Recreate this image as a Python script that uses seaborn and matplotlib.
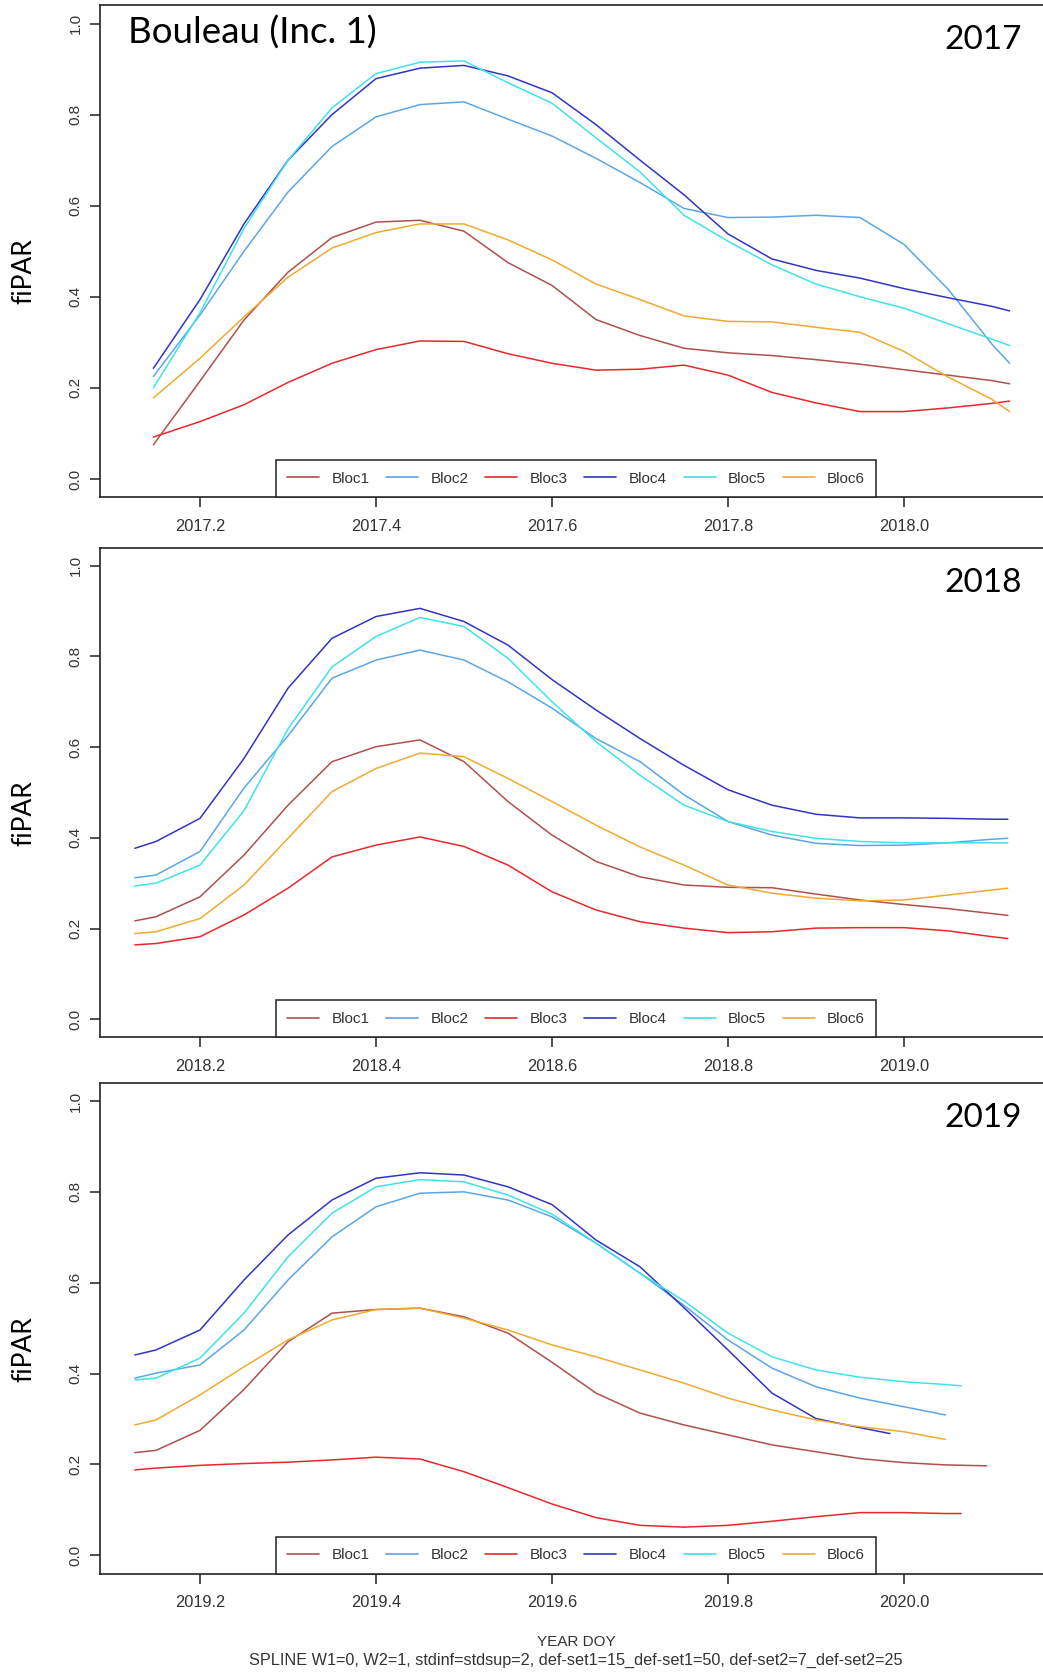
"""fiPAR spline curves per bloc, Bouleau (Inc. 1), 2017-2019."""

import numpy as np
import pandas as pd
import matplotlib

matplotlib.use("Agg")
import matplotlib.pyplot as plt
import seaborn as sns

nan = np.nan

BLOCS = ["Bloc1", "Bloc2", "Bloc3", "Bloc4", "Bloc5", "Bloc6"]
COLORS = ["#B0504C", "#5CA6E8", "#E8282C", "#3434C4", "#40E2EA", "#F0AA30"]

# 2017
x_2017 = [2017.147, 2017.20, 2017.25, 2017.30, 2017.35, 2017.40, 2017.45, 2017.50,
          2017.55, 2017.60, 2017.65, 2017.70, 2017.75, 2017.80, 2017.85, 2017.90,
          2017.95, 2018.00, 2018.05, 2018.10, 2018.12]
bloc1_2017 = [.075, .215, .349, .454, .530, .564, .568, .544, .475, .425, .350, .315,
              .287, .277, .271, .262, .252, .240, .228, .216, .209]
bloc2_2017 = [.225, .360, .500, .630, .730, .795, .822, .828, .790, .753, .704, .651,
              .594, .574, .575, .579, .574, .515, .417, .296, .254]
bloc3_2017 = [.092, .126, .163, .212, .254, .284, .303, .302, .275, .254, .239, .241,
              .250, .228, .190, .167, .148, .148, .156, .166, .171]
bloc4_2017 = [.243, .394, .560, .700, .800, .879, .902, .908, .885, .848, .778, .700,
              .624, .538, .483, .458, .441, .418, .398, .379, .369]
bloc5_2017 = [.200, .365, .550, .700, .815, .890, .915, .918, .870, .825, .749, .674,
              .579, .522, .470, .428, .400, .375, .341, .307, .293]
bloc6_2017 = [.178, .265, .356, .443, .507, .541, .560, .560, .525, .481, .428, .394,
              .358, .346, .345, .333, .322, .280, .224, .175, .148]

# 2018
x_2018 = [2018.126, 2018.15, 2018.20, 2018.25, 2018.30, 2018.35, 2018.40, 2018.45,
          2018.50, 2018.55, 2018.60, 2018.65, 2018.70, 2018.75, 2018.80, 2018.85,
          2018.90, 2018.95, 2019.00, 2019.05, 2019.10, 2019.118]
bloc1_2018 = [.217, .226, .270, .362, .472, .568, .601, .616, .568, .480, .406, .348,
              .314, .296, .291, .290, .276, .263, .253, .244, .233, .229]
bloc2_2018 = [.312, .318, .370, .510, .625, .752, .792, .814, .792, .744, .686, .619,
              .568, .495, .436, .406, .388, .383, .384, .389, .397, .399]
bloc3_2018 = [.164, .167, .182, .230, .289, .358, .384, .402, .381, .340, .281, .241,
              .215, .201, .191, .193, .201, .202, .202, .195, .182, .178]
bloc4_2018 = [.377, .392, .443, .575, .730, .840, .888, .906, .877, .825, .749, .682,
              .619, .560, .506, .472, .452, .444, .444, .443, .441, .441]
bloc5_2018 = [.294, .300, .340, .460, .640, .777, .844, .886, .866, .796, .700, .612,
              .538, .472, .436, .414, .399, .392, .389, .389, .389, .389]
bloc6_2018 = [.189, .193, .222, .296, .399, .502, .553, .587, .579, .531, .480, .428,
              .380, .340, .296, .278, .267, .261, .263, .274, .285, .289]

# 2019
x_2019 = [2019.126, 2019.15, 2019.20, 2019.25, 2019.30, 2019.35, 2019.40, 2019.45,
          2019.50, 2019.55, 2019.60, 2019.65, 2019.70, 2019.75, 2019.80, 2019.85,
          2019.90, 2019.95, 2019.984, 2020.00, 2020.047, 2020.065, 2020.094]
bloc1_2019 = [.226, .231, .275, .365, .470, .533, .541, .544, .525, .489, .425, .357,
              .313, .287, .265, .243, .228, .213, nan, .204, .199, nan, .197]
bloc2_2019 = [.390, .401, .419, .496, .606, .701, .767, .797, .800, .782, .745, .687,
              .621, .550, .474, .412, .371, .346, nan, .327, .309, nan, nan]
bloc3_2019 = [.188, .192, .198, .202, .205, .210, .216, .212, .184, .149, .113, .083,
              .066, .062, .066, .075, .085, .094, nan, .094, .092, .092, nan]
bloc4_2019 = [.441, .452, .496, .606, .705, .782, .830, .842, .837, .811, .772, .694,
              .635, .545, .452, .357, .301, .281, .268, nan, nan, nan, nan]
bloc5_2019 = [.386, .390, .434, .533, .657, .753, .811, .827, .822, .793, .751, .687,
              .621, .560, .489, .437, .408, .392, nan, .382, .376, .373, nan]
bloc6_2019 = [.287, .298, .353, .415, .474, .518, .541, .544, .522, .496, .463, .437,
              .408, .379, .346, .320, .298, .283, nan, .272, .255, nan, nan]

YEARS = [2017, 2018, 2019]
X_BY_YEAR = {2017: x_2017, 2018: x_2018, 2019: x_2019}
VALUES_BY_YEAR = {
    2017: [bloc1_2017, bloc2_2017, bloc3_2017, bloc4_2017, bloc5_2017, bloc6_2017],
    2018: [bloc1_2018, bloc2_2018, bloc3_2018, bloc4_2018, bloc5_2018, bloc6_2018],
    2019: [bloc1_2019, bloc2_2019, bloc3_2019, bloc4_2019, bloc5_2019, bloc6_2019],
}

W, H = 1043, 1672


def fx(px):
    return px / W


def fy(py):
    return 1 - py / H


def long_frame(year):
    rows = []
    for bloc, vals in zip(BLOCS, VALUES_BY_YEAR[year]):
        for x, v in zip(X_BY_YEAR[year], vals):
            rows.append({"x": x, "bloc": bloc, "fiPAR": v})
    return pd.DataFrame(rows).dropna()


sns.set_style("white")
plt.rcParams["font.family"] = ["Liberation Sans", "DejaVu Sans"]

fig = plt.figure(figsize=(W / 100, H / 100), dpi=100)

# axes boxes in pixels: (top, bottom)
panel_px = [(5.3, 497.2), (547.6, 1037.4), (1082.8, 1573.5)]
palette = dict(zip(BLOCS, COLORS))

for year, (top, bottom) in zip(YEARS, panel_px):
    ax = fig.add_axes([fx(100), fy(bottom), fx(952), (bottom - top) / H])
    df = long_frame(year)
    sns.lineplot(data=df, x="x", y="fiPAR", hue="bloc", hue_order=BLOCS,
                 palette=palette, estimator=None, sort=True, lw=1.1, ax=ax)

    x0 = year + 0.2
    ax.set_xlim(x0 - 100 / 880, x0 + 852 / 880)
    ax.set_ylim(-0.04, 1.04)
    ticks = [x0 + 0.2 * i for i in range(5)]
    ax.set_xticks(ticks)
    ax.set_xticklabels([f"{t:.1f}" for t in ticks])
    ax.set_yticks([0, 0.2, 0.4, 0.6, 0.8, 1.0])
    ax.set_yticklabels(["0.0", "0.2", "0.4", "0.6", "0.8", "1.0"])
    ax.tick_params(axis="x", length=7.5, width=1.1, pad=8, labelsize=11.8,
                   labelcolor="#333333", color="#222222", bottom=True)
    ax.tick_params(axis="y", length=7.5, width=1.1, pad=5, labelsize=11,
                   labelcolor="#333333", color="#222222", left=True, labelrotation=90)
    for lab in ax.get_yticklabels():
        lab.set_va("center")
    ax.set_xlabel("")
    ax.set_ylabel("")
    for side in ax.spines.values():
        side.set_color("#222222")
        side.set_linewidth(1.2)

    handles, labels = ax.get_legend_handles_labels()
    leg = ax.legend(handles, labels, loc="lower center", bbox_to_anchor=(0.5, 0),
                    ncol=6, fontsize=11, frameon=True, fancybox=False,
                    framealpha=1, edgecolor="#222222", borderaxespad=0,
                    handlelength=2.1, handletextpad=0.8, columnspacing=1.1,
                    borderpad=0.75, labelcolor="#333333")
    leg.get_frame().set_linewidth(1.1)
    for line in leg.get_lines():
        line.set_linewidth(1.2)

    fig.text(fx(1022), fy(top + 35), str(year), ha="right", va="center",
             fontsize=24, family=["Lato", "DejaVu Sans"], color="black")
    fig.text(fx(24), fy(top + 266), "fiPAR", ha="center", va="center",
             rotation=90, fontsize=19, family=["Lato", "DejaVu Sans"], color="black")

fig.text(fx(128), fy(33), "Bouleau (Inc. 1)", ha="left", va="center",
         fontsize=26.5, family=["Lato", "DejaVu Sans"], color="black")

fig.text(fx(576), fy(1642), "YEAR DOY", ha="center", va="center",
         fontsize=11, color="#333333")
fig.text(fx(576), fy(1660),
         "SPLINE W1=0, W2=1, stdinf=stdsup=2, def-set1=15_def-set1=50, "
         "def-set2=7_def-set2=25",
         ha="center", va="center", fontsize=11.7, color="#333333")

fig.savefig("out.png", dpi=100)
